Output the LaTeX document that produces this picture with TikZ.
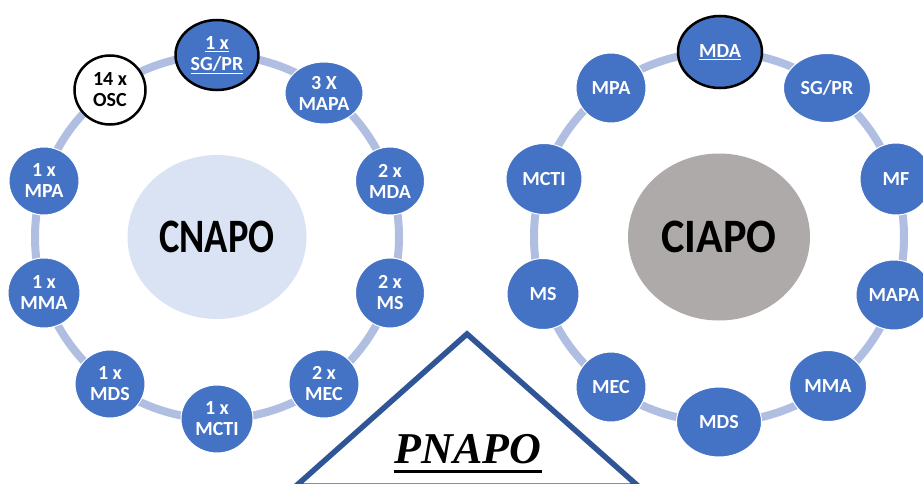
\documentclass[tikz,border=0pt]{standalone}
\usepackage{fontspec}
\setmainfont{Carlito}
\newfontfamily\pnapofont{Liberation Serif}
\usetikzlibrary{shapes.geometric}
\definecolor{nodeblue}{RGB}{68,114,196}
\definecolor{ringblue}{RGB}{176,190,226}
\definecolor{cnapofill}{RGB}{218,227,243}
\definecolor{ciapofill}{RGB}{174,170,170}
\definecolor{tridark}{RGB}{47,85,151}
\newcommand{\ulw}[1]{\vtop{\hbox{#1}\kern1.6pt\hrule height 1.3pt}}
\tikzset{
  member/.style={ellipse, fill=nodeblue, draw=white, line width=1pt, text=white,
    font=\fontsize{20}{21}\selectfont\bfseries, align=center, inner sep=0pt},
  sz/.style 2 args={minimum width=#1pt, minimum height=#2pt},
  lead/.style={member, draw=black, line width=2.5pt},
  oscnode/.style={member, fill=white, draw=black, line width=2.5pt, text=black},
  hub/.style={ellipse, inner sep=0pt, font=\fontsize{48}{48}\selectfont\bfseries},
  ringline/.style={draw=ringblue, line width=8pt},
  tri/.style={draw=tridark, line width=5.5pt, line join=miter},
}
\begin{document}
\begin{tikzpicture}[x=1pt,y=-1pt]
\clip (0,0) rectangle (923,484);
% ---------- left (CNAPO) ----------
\node[hub, fill=cnapofill, minimum width=179pt, minimum height=164pt] (cnapo) at (217,237) {\scalebox{0.8}[1]{CNAPO}};
\draw[ringline] (cnapo.center) circle[radius=182];
\node[lead, sz={83}{70}] (lsg) at (217,55) {\ulw{1 x}\\\ulw{SG/PR}};
\node[member, sz={78}{62}] (lmapa) at (324,93) {3 X\\MAPA};
\node[member, sz={69}{68}] (lmda) at (390,181) {2 x\\MDA};
\node[member, sz={69}{70}] (lms) at (390,293) {2 x\\MS};
\node[member, sz={70}{68}] (lmec) at (324,384) {2 x\\MEC};
\node[member, sz={72}{68}] (lmcti) at (217,419) {1 x\\MCTI};
\node[member, sz={70}{68}] (lmds) at (110,384) {1 x\\MDS};
\node[member, sz={72}{70}] (lmma) at (44,293) {1 x\\MMA};
\node[member, sz={70}{68}] (lmpa) at (44,181) {1 x\\MPA};
\node[oscnode, sz={71}{69}] (losc) at (110,90) {14 x\\OSC};
% ---------- right (CIAPO) ----------
\node[hub, fill=ciapofill, minimum width=182pt, minimum height=167pt] (ciapo) at (719,237) {\scalebox{0.92}[1]{CIAPO}};
\draw[ringline] (ciapo.center) circle[radius=185];
\node[lead, sz={84}{72}] (rmda) at (720,52) {\ulw{MDA}};
\node[member, sz={87}{69}] (rsg) at (827,88) {SG/PR};
\node[member, sz={72}{72}] (rmf) at (896,179) {MF};
\node[member, sz={76}{70}] (rmapa) at (894,295) {MAPA};
\node[member, sz={77}{71}] (rmma) at (828,386) {MMA};
\node[member, sz={85}{70}] (rmds) at (719,422) {MDS};
\node[member, sz={70}{70}] (rmec) at (611,387) {MEC};
\node[member, sz={72}{71}] (rms) at (543,294) {MS};
\node[member, sz={76}{71}] (rmcti) at (544,179) {MCTI};
\node[member, sz={70}{70}] (rmpa) at (611,88) {MPA};
% ---------- PNAPO triangle ----------
\coordinate (apex) at (467,334);
\coordinate (bl) at (296,486);
\coordinate (br) at (638,486);
\draw[tri] (bl) -- (apex) -- (br) -- cycle;
\node[inner sep=0pt, anchor=base, font=\pnapofont\fontsize{44}{44}\selectfont\bfseries\itshape] (pn) at (468,463) {PNAPO};
\draw[line width=3pt] ([yshift=-8.5pt]pn.base west) -- ([yshift=-8.5pt]pn.base east);
\end{tikzpicture}
\end{document}
